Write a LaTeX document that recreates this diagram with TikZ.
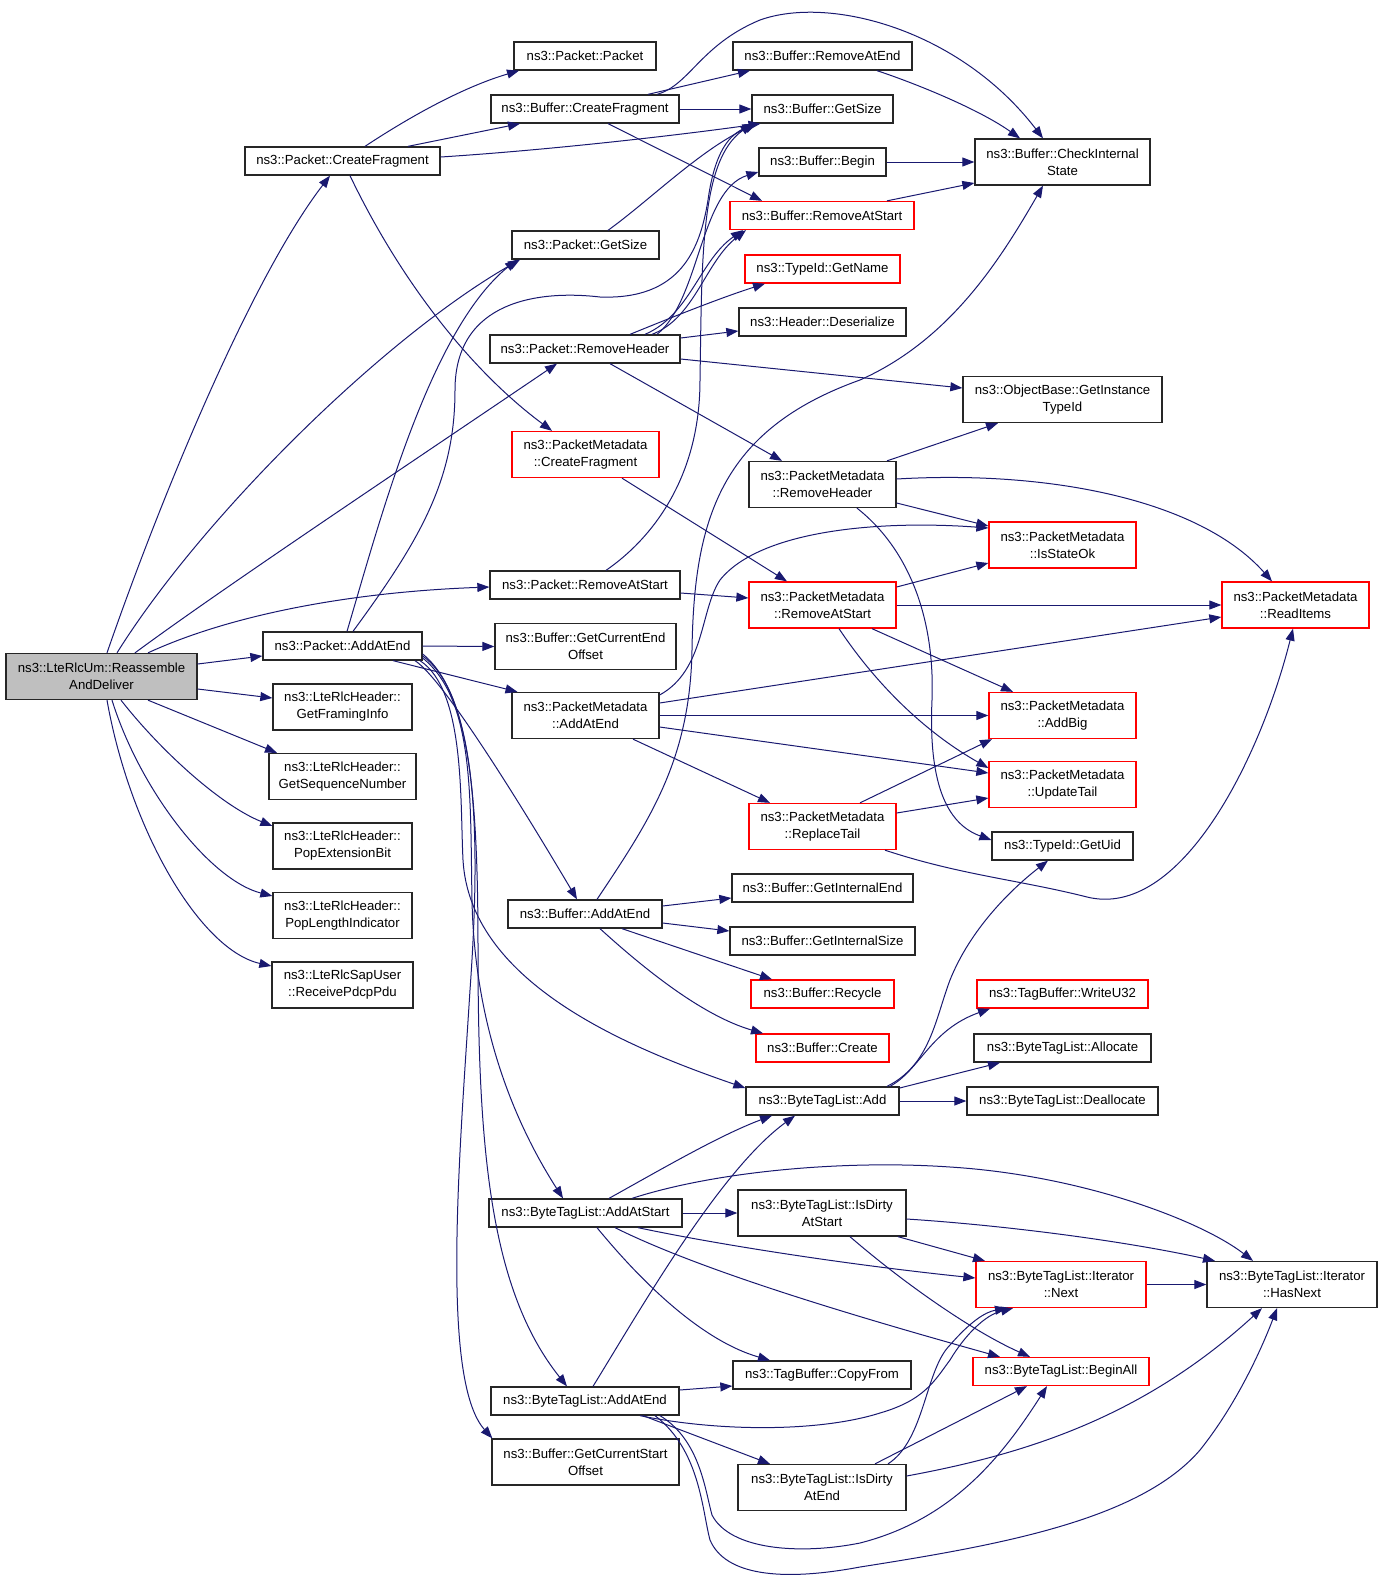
\documentclass[tikz,border=0pt]{standalone}
\usepackage{fontspec}
\newfontfamily\dxfont{Liberation Sans}
\usepackage{xcolor}
\usetikzlibrary{arrows.meta}
\definecolor{edgeblue}{HTML}{191970}
\definecolor{rootgray}{HTML}{BFBFBF}
\definecolor{boxred}{HTML}{FF0000}
\tikzset{
  fn/.style={draw=black!85, line width=1.3pt, fill=white, inner sep=0pt, align=center,
    font={\dxfont\fontsize{13.2}{17}\selectfont}, minimum height=28},
  fntwo/.style={fn, minimum height=46},
  fnred/.style={draw=boxred},
  call/.style={edgeblue, line width=1pt, -{Triangle[length=12pt,width=9pt]}},
}
\begin{document}
\begin{tikzpicture}[x=1pt,y=-1pt]
\useasboundingbox (0,0) rectangle (1387,1585);

% Root node
\node[fntwo, fill=rootgray, minimum width=191] (root) at (101.5,676.5) {ns3::LteRlcUm::Reassemble\\AndDeliver};

% Column 2
\node[fn, minimum width=195] (pcf) at (342.5,161) {ns3::Packet::CreateFragment};
\node[fn, minimum width=159] (pae) at (342.5,646) {ns3::Packet::AddAtEnd};
\node[fntwo, minimum width=139] (gfi) at (342.5,707) {ns3::LteRlcHeader::\\GetFramingInfo};
\node[fntwo, minimum width=147] (gsn) at (342.5,776.5) {ns3::LteRlcHeader::\\GetSequenceNumber};
\node[fntwo, minimum width=139] (peb) at (342.5,846) {ns3::LteRlcHeader::\\PopExtensionBit};
\node[fntwo, minimum width=139] (pli) at (342.5,915.5) {ns3::LteRlcHeader::\\PopLengthIndicator};
\node[fntwo, minimum width=141] (rpp) at (342.5,985) {ns3::LteRlcSapUser\\::ReceivePdcpPdu};

% Column 3
\node[fn, minimum width=142] (pkt) at (585,56) {ns3::Packet::Packet};
\node[fn, minimum width=188] (bcf) at (585,109) {ns3::Buffer::CreateFragment};
\node[fn, minimum width=147] (pgs) at (585.5,245) {ns3::Packet::GetSize};
\node[fn, minimum width=190] (prh) at (585,349) {ns3::Packet::RemoveHeader};
\node[fntwo, fnred, minimum width=147] (pmcf) at (585.5,454.5) {ns3::PacketMetadata\\::CreateFragment};
\node[fn, minimum width=190] (pras) at (585,585) {ns3::Packet::RemoveAtStart};
\node[fntwo, minimum width=181] (bgceo) at (585.5,646.5) {ns3::Buffer::GetCurrentEnd\\Offset};
\node[fntwo, minimum width=147] (pmaae) at (585.5,715.5) {ns3::PacketMetadata\\::AddAtEnd};
\node[fn, minimum width=154] (bae) at (585,914) {ns3::Buffer::AddAtEnd};
\node[fn, minimum width=193] (btlas) at (585.5,1213) {ns3::ByteTagList::AddAtStart};
\node[fn, minimum width=188] (btlae) at (585,1401) {ns3::ByteTagList::AddAtEnd};
\node[fntwo, minimum width=187] (bgcso) at (585.5,1462) {ns3::Buffer::GetCurrentStart\\Offset};

% Column 4
\node[fn, minimum width=179] (brae) at (822.5,56) {ns3::Buffer::RemoveAtEnd};
\node[fn, minimum width=141] (bgs) at (822.5,109) {ns3::Buffer::GetSize};
\node[fn, minimum width=127] (bbeg) at (822.5,162) {ns3::Buffer::Begin};
\node[fn, fnred, minimum width=184] (bras) at (822,215.5) {ns3::Buffer::RemoveAtStart};
\node[fn, fnred, minimum width=155] (gname) at (822.5,269) {ns3::TypeId::GetName};
\node[fn, minimum width=167] (hdes) at (822.5,322) {ns3::Header::Deserialize};
\node[fntwo, minimum width=147] (pmrh) at (822.5,484.5) {ns3::PacketMetadata\\::RemoveHeader};
\node[fntwo, fnred, minimum width=147] (pmras) at (822.5,605) {ns3::PacketMetadata\\::RemoveAtStart};
\node[fntwo, fnred, minimum width=147] (pmrt) at (822.5,826.5) {ns3::PacketMetadata\\::ReplaceTail};
\node[fn, minimum width=181] (bgie) at (822.5,888) {ns3::Buffer::GetInternalEnd};
\node[fn, minimum width=185] (bgis) at (822.5,941) {ns3::Buffer::GetInternalSize};
\node[fn, fnred, minimum width=143] (brec) at (822.5,994) {ns3::Buffer::Recycle};
\node[fn, fnred, minimum width=133] (bcre) at (822.5,1048) {ns3::Buffer::Create};
\node[fn, minimum width=153] (btla) at (822.5,1101) {ns3::ByteTagList::Add};
\node[fntwo, minimum width=168] (idas) at (822,1213) {ns3::ByteTagList::IsDirty\\AtStart};
\node[fn, minimum width=178] (cpf) at (822,1375) {ns3::TagBuffer::CopyFrom};
\node[fntwo, minimum width=168] (idae) at (822,1487.5) {ns3::ByteTagList::IsDirty\\AtEnd};

% Column 5
\node[fntwo, minimum width=175] (bcis) at (1062.5,162) {ns3::Buffer::CheckInternal\\State};
\node[fntwo, minimum width=199] (obgit) at (1062.5,399.5) {ns3::ObjectBase::GetInstance\\TypeId};
\node[fntwo, fnred, minimum width=147] (pmiso) at (1062.5,545) {ns3::PacketMetadata\\::IsStateOk};
\node[fntwo, fnred, minimum width=147] (pmab) at (1062.5,715.5) {ns3::PacketMetadata\\::AddBig};
\node[fntwo, fnred, minimum width=147] (pmut) at (1062.5,784.5) {ns3::PacketMetadata\\::UpdateTail};
\node[fn, minimum width=141] (guid) at (1062.5,846) {ns3::TypeId::GetUid};
\node[fn, fnred, minimum width=171] (wu32) at (1062.5,994) {ns3::TagBuffer::WriteU32};
\node[fn, minimum width=177] (alloc) at (1062.5,1048) {ns3::ByteTagList::Allocate};
\node[fn, minimum width=191] (dealloc) at (1062.5,1101) {ns3::ByteTagList::Deallocate};
\node[fntwo, fnred, minimum width=170] (inext) at (1061,1284.5) {ns3::ByteTagList::Iterator\\::Next};
\node[fn, fnred, minimum width=176] (ball) at (1061,1371.5) {ns3::ByteTagList::BeginAll};

% Column 6
\node[fntwo, fnred, minimum width=147] (pmri) at (1295.5,605) {ns3::PacketMetadata\\::ReadItems};
\node[fntwo, minimum width=170] (ihn) at (1292,1284.5) {ns3::ByteTagList::Iterator\\::HasNext};

% Calls from the root
\draw[call] ([xshift=5.5]root.north) .. controls (160,500) and (250,280) .. ([xshift=-12.5]pcf.south);
\draw[call] ([xshift=15.5]root.north) .. controls (200,520) and (380,340) .. ([xshift=-65.5]pgs.south);
\draw[call] ([xshift=33.5]root.north) .. controls (220,590) and (400,470) .. ([xshift=-28]prh.south);
\draw[call] ([xshift=46.5]root.north) .. controls (230,615) and (350,592) .. ([yshift=-2]pras.west);
\draw[call] ([yshift=12.5]root.east) -- ([yshift=-10]pae.west);
\draw[call] ([yshift=-12.5]root.east) -- ([yshift=9]gfi.west);
\draw[call] ([xshift=46.5]root.south) -- ([xshift=-65.5]gsn.north);
\draw[call] ([xshift=19.5]root.south) .. controls (160,750) and (220,805) .. ([yshift=20]peb.west);
\draw[call] ([xshift=10.5]root.south) .. controls (140,790) and (210,880) .. ([yshift=19.5]pli.west);
\draw[call] ([xshift=5.5]root.south) .. controls (130,830) and (200,950) .. ([yshift=19]rpp.west);

% Packet::CreateFragment
\draw[call] ([xshift=22.5]pcf.north) .. controls (420,110) and (470,85) .. ([xshift=-66]pkt.south);
\draw[call] ([xshift=65.5]pcf.north) -- ([xshift=-65]bcf.south);
\draw[call] ([yshift=4]pcf.east) .. controls (550,150) and (680,135) .. ([xshift=-62]bgs.south);
\draw[call] ([xshift=7.5]pcf.south) .. controls (400,280) and (470,370) .. ([xshift=-33.5]pmcf.north);

% Buffer::CreateFragment and CheckInternalState
\draw[call] ([xshift=63]bcf.north) -- ([xshift=-72.5]brae.south);
\draw[call] ([xshift=72]bcf.north) .. controls (690,85) and (700,45) .. (760,20) .. controls (830,-5) and (960,30) .. ([xshift=-19.5]bcis.north);
\draw[call] (bcf.east) -- (bgs.west);
\draw[call] ([xshift=23]bcf.south) -- ([xshift=-60]bras.north);
\draw[call] ([xshift=54.5]brae.south) .. controls (920,85) and (980,110) .. ([xshift=-42.5]bcis.north);
\draw[call] (bbeg.east) -- (bcis.west);
\draw[call] ([xshift=65]bras.north) -- ([yshift=-21]bcis.west);
\draw[call] ([xshift=22.5]pgs.north) .. controls (650,200) and (700,150) .. ([xshift=-66]bgs.south);

% Packet::RemoveHeader
\draw[call] ([xshift=45]prh.north) .. controls (670,318) and (720,298) .. ([xshift=-57.5]gname.south);
\draw[call] ([xshift=60]prh.north) .. controls (690,315) and (700,260) .. ([xshift=-79]bras.south);
\draw[call] ([xshift=67]prh.north) .. controls (695,318) and (705,262) .. ([xshift=-76]bras.south);
\draw[call] ([xshift=72]prh.north) .. controls (700,300) and (700,190) .. ([yshift=-10]bbeg.west);
\draw[call] ([yshift=11]prh.east) -- ([yshift=-9]hdes.west);
\draw[call] ([yshift=-10]prh.east) -- ([yshift=11.5]obgit.west);
\draw[call] ([xshift=25]prh.south) -- ([xshift=-40.5]pmrh.north);

% Packet::RemoveAtStart
\draw[call] ([xshift=36.5]pmcf.south) -- ([xshift=-35.5]pmras.north);
\draw[call] ([xshift=21]pras.north) .. controls (650,540) and (700,480) .. (700,380) .. controls (702,260) and (700,160) .. ([xshift=-70]bgs.south);
\draw[call] ([yshift=-8]pras.east) -- ([yshift=7]pmras.west);

% Packet::AddAtEnd
\draw[call] ([xshift=4.5]pae.north) .. controls (380,520) and (430,330) .. ([xshift=-68.5]pgs.south);
\draw[call] ([xshift=10.5]pae.north) .. controls (420,540) and (455,480) .. (455,390) .. controls (455,300) and (540,290) .. (600,297) .. controls (680,300) and (700,250) .. (708,200) .. controls (715,150) and (730,135) .. ([xshift=-68]bgs.south);
\draw[call] (pae.east) -- (bgceo.west);
\draw[call] ([xshift=50.5]pae.south) -- ([xshift=-68]pmaae.north);
\draw[call] ([xshift=72.5]pae.south) .. controls (445,680) and (530,820) .. ([xshift=-8]bae.north);
\draw[call] ([xshift=77.5]pae.south) .. controls (465,690) and (460,800) .. (463,860) .. controls (470,980) and (620,1045) .. ([yshift=13]btla.west);
\draw[call] ([yshift=-12]pae.east) .. controls (475,700) and (470,800) .. (472,900) .. controls (474,1000) and (500,1100) .. ([xshift=-22.5]btlas.north);
\draw[call] ([yshift=-10]pae.east) .. controls (470,690) and (478,800) .. (478,950) .. controls (478,1150) and (490,1290) .. ([xshift=-18]btlae.north);
\draw[call] ([yshift=-8]pae.east) .. controls (480,700) and (480,850) .. (470,990) .. controls (460,1150) and (440,1380) .. ([xshift=1]bgcso.north west);

% Buffer::AddAtEnd
\draw[call] ([xshift=12]bae.north) .. controls (650,820) and (690,760) .. (692,650) .. controls (694,520) and (720,430) .. (860,380) .. controls (950,340) and (1000,260) .. ([xshift=-19.5]bcis.south);
\draw[call] ([yshift=8]bae.east) -- ([yshift=-10]bgie.west);
\draw[call] ([yshift=-9]bae.east) -- ([yshift=10]bgis.west);
\draw[call] ([xshift=37]bae.south) -- ([xshift=-50.5]brec.north);
\draw[call] ([xshift=15]bae.south) .. controls (640,965) and (700,1015) .. ([xshift=-59.5]bcre.north);

% PacketMetadata::RemoveHeader
\draw[call] ([xshift=64.5]pmrh.north) -- ([xshift=-64.5]obgit.south);
\draw[call] ([yshift=5.5]pmrh.east) .. controls (1050,470) and (1200,500) .. ([xshift=-23.5]pmri.north);
\draw[call] ([yshift=-18.5]pmrh.east) -- ([yshift=19]pmiso.west);
\draw[call] ([xshift=34.5]pmrh.south) .. controls (910,550) and (935,620) .. (932,700) .. controls (928,790) and (950,825) .. ([yshift=6]guid.west);

% PacketMetadata::RemoveAtStart
\draw[call] ([yshift=18]pmras.east) -- ([yshift=-18]pmiso.west);
\draw[call] (pmras.east) -- (pmri.west);
\draw[call] ([xshift=49.5]pmras.south) -- ([xshift=-49.5]pmab.north);
\draw[call] ([xshift=16.5]pmras.south) .. controls (880,690) and (930,735) .. ([yshift=16.5]pmut.west);

% PacketMetadata::AddAtEnd
\draw[call] ([yshift=20.5]pmaae.east) .. controls (705,670) and (700,610) .. (720,580) .. controls (760,530) and (880,520) .. ([yshift=17]pmiso.west);
\draw[call] ([yshift=12.5]pmaae.east) -- ([yshift=-12]pmri.west);
\draw[call] (pmaae.east) -- (pmab.west);
\draw[call] ([yshift=-11.5]pmaae.east) -- ([yshift=11.5]pmut.west);
\draw[call] ([xshift=47.5]pmaae.south) -- ([xshift=-52.5]pmrt.north);

% PacketMetadata::ReplaceTail
\draw[call] ([xshift=37.5]pmrt.north) -- ([xshift=-70.5]pmab.south);
\draw[call] ([yshift=13.5]pmrt.east) -- ([yshift=-13.5]pmut.west);
\draw[call] ([xshift=62.5]pmrt.south) .. controls (960,875) and (1020,880) .. (1087,897) .. controls (1180,920) and (1260,760) .. ([xshift=-2.5]pmri.south);

% ByteTagList::Add
\draw[call] ([xshift=64.5]btla.north) .. controls (930,1065) and (935,1020) .. (950,980) .. controls (970,930) and (1010,890) .. ([xshift=-14.5]guid.south);
\draw[call] ([xshift=67.5]btla.north) .. controls (920,1070) and (930,1030) .. ([xshift=-72.5]wu32.south);
\draw[call] ([yshift=13]btla.east) -- ([xshift=-62.5]alloc.south);
\draw[call] (btla.east) -- (dealloc.west);

% ByteTagList::AddAtStart
\draw[call] ([xshift=23.5]btlas.north) .. controls (660,1170) and (720,1135) .. ([xshift=-50.5]btla.south);
\draw[call] (btlas.east) -- (idas.west);
\draw[call] ([xshift=46.5]btlas.north) .. controls (720,1170) and (850,1160) .. (950,1167) .. controls (1080,1175) and (1200,1220) .. ([xshift=-39]ihn.north);
\draw[call] ([xshift=52.5]btlas.south) .. controls (720,1245) and (850,1265) .. ([yshift=6.5]inext.west);
\draw[call] ([xshift=29.5]btlas.south) .. controls (700,1270) and (850,1315) .. ([xshift=-61]ball.north);
\draw[call] ([xshift=11.5]btlas.south) .. controls (640,1280) and (700,1340) .. ([xshift=-52]cpf.north);

% ByteTagList::IsDirtyAtStart
\draw[call] ([yshift=-6]idas.east) .. controls (1000,1225) and (1120,1240) .. ([xshift=-77]ihn.north);
\draw[call] ([xshift=76]idas.south) -- ([xshift=-76]inext.north);
\draw[call] ([xshift=28]idas.south) .. controls (900,1280) and (970,1330) .. ([xshift=-31]ball.north);
\draw[call] (inext.east) -- (ihn.west);

% ByteTagList::AddAtEnd
\draw[call] ([xshift=8]btlae.north) .. controls (640,1310) and (720,1170) .. ([xshift=-27.5]btla.south);
\draw[call] ([yshift=11]btlae.east) -- ([yshift=-11]cpf.west);
\draw[call] ([xshift=55]btlae.south) .. controls (720,1432) and (820,1432) .. (880,1413) .. controls (925,1400) and (935,1380) .. (950,1360) .. controls (965,1335) and (985,1315) .. ([xshift=-48]inext.south);
\draw[call] ([xshift=58]btlae.south) -- ([xshift=-52]idae.north);
\draw[call] ([xshift=75]btlae.south) .. controls (700,1440) and (705,1490) .. (712,1515) .. controls (730,1550) and (800,1555) .. (860,1543) .. controls (950,1520) and (1000,1460) .. ([xshift=-14]ball.south);
\draw[call] ([xshift=70]btlae.south) .. controls (700,1450) and (702,1510) .. (710,1540) .. controls (725,1575) and (780,1582) .. (860,1567) .. controls (1000,1545) and (1140,1520) .. (1200,1450) .. controls (1240,1400) and (1265,1340) .. ([xshift=-15]ihn.south);

% ByteTagList::IsDirtyAtEnd
\draw[call] ([xshift=66]idae.north) .. controls (925,1440) and (925,1370) .. (950,1345) .. controls (970,1322) and (985,1312) .. ([xshift=-54]inext.south);
\draw[call] ([xshift=53]idae.north) -- ([xshift=-34]ball.south);
\draw[call] ([yshift=11.5]idae.east) .. controls (1020,1455) and (1140,1420) .. ([xshift=-30]ihn.south);

\end{tikzpicture}
\end{document}
